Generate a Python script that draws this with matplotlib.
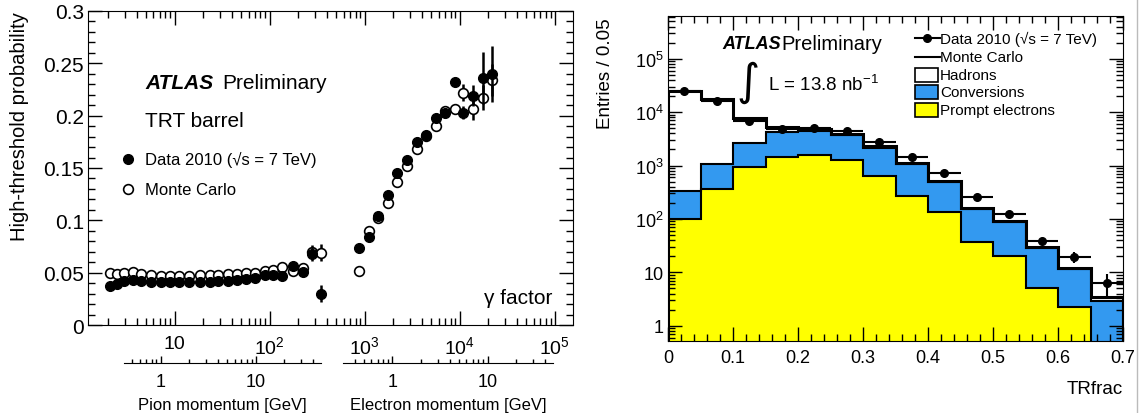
import numpy as np
import matplotlib.pyplot as plt
from matplotlib.lines import Line2D
from matplotlib.patches import Rectangle
from matplotlib.ticker import MultipleLocator, LogLocator, NullFormatter

plt.rcParams['font.family'] = ['Liberation Sans', 'DejaVu Sans']
plt.rcParams['mathtext.fontset'] = 'custom'
plt.rcParams['mathtext.rm'] = 'Liberation Sans'
plt.rcParams['mathtext.it'] = 'Liberation Sans:italic'

# ---- left panel: high-threshold probability vs gamma factor ----
pion_gamma = [2.09, 2.48, 2.94, 3.66, 4.44, 5.65, 7.21, 8.96, 11.1, 14.2, 18.5, 23.6,
              28.6, 36.5, 45.4, 56.4, 70.2, 89.4, 108, 135, 176, 224, 279, 347]
pion_data = [0.0376, 0.039, 0.042, 0.043, 0.042, 0.041, 0.041, 0.041, 0.041, 0.041, 0.041, 0.0415,
             0.042, 0.042, 0.043, 0.044, 0.045, 0.048, 0.048, 0.047, 0.056, 0.051, 0.068, 0.030]
pion_mc = [0.0494, 0.049, 0.050, 0.051, 0.049, 0.048, 0.047, 0.047, 0.047, 0.047, 0.048, 0.048,
           0.048, 0.049, 0.049, 0.050, 0.050, 0.052, 0.053, 0.055, 0.052, 0.054, 0.070, 0.069]
pion_data_err = [0] * 22 + [0.007, 0.008]
pion_mc_err = [0] * 22 + [0.006, 0.008]

ele_gamma = [871, 1109, 1378, 1757, 2183, 2782, 3543, 4402, 5611, 6978, 8894, 10790,
             13740, 17490, 21770]
ele_data = [0.074, 0.084, 0.104, 0.124, 0.145, 0.158, 0.175, 0.182, 0.198, 0.203, 0.232, 0.203,
            0.219, 0.236, 0.240]
ele_mc = [0.052, 0.090, 0.102, 0.117, 0.137, 0.152, 0.168, 0.181, 0.190, 0.204, 0.206, 0.222,
          0.206, 0.217, 0.234]
ele_data_err = [0, 0, 0, 0, 0, 0, 0, 0, 0, 0.002, 0.004, 0.006, 0.010, 0.025, 0.027]
ele_mc_err = [0.003, 0, 0, 0, 0, 0, 0, 0, 0, 0.003, 0.004, 0.008, 0.010, 0.012, 0.015]

m_pion = 0.1396
m_ele = 0.000511

# ---- right panel: TRfrac distribution ----
tr_edges = np.linspace(0, 0.7, 15)
prompt_e = [100, 360, 940, 1420, 1580, 1260, 640, 270, 135, 37, 20, 5.1, 2.3, 0]
conversions = [230, 710, 1710, 2810, 2870, 2440, 1510, 800, 355, 118, 68, 24, 9.4, 2.9]
hadrons = [24700, 16400, 4950, 970, 350, 260, 150, 60, 25, 8, 4, 1, 0.5, 0.6]
tr_data = [24700, 16000, 6800, 4800, 5000, 4400, 2750, 1440, 720, 260, 125, 39, 19.5, 6.3]
tr_data_err = [160, 126, 82, 69, 71, 66, 52, 38, 27, 16, 11, 6, 4.4, 3]

W, H = 1141, 414
fig = plt.figure(figsize=(W / 100, H / 100), dpi=100)


def fx(px):
    return px / W


def fy(py):
    return 1 - py / H


# left axes
ax = fig.add_axes([fx(88), fy(326), fx(573) - fx(88), fy(12) - fy(326)])
ax.set_xscale('log')
ax.set_xlim(10 ** 0.09, 10 ** 5.19)
ax.set_ylim(0, 0.3)

ms = 7
for g, d, e in [(pion_gamma, pion_mc, pion_mc_err), (ele_gamma, ele_mc, ele_mc_err)]:
    ax.errorbar(g, d, yerr=e, fmt='o', ms=ms, mfc='white', mec='black', mew=1.2,
                ecolor='black', elinewidth=1.8, capsize=0, zorder=3)
for g, d, e in [(pion_gamma, pion_data, pion_data_err), (ele_gamma, ele_data, ele_data_err)]:
    ax.errorbar(g, d, yerr=e, fmt='o', ms=ms, mfc='black', mec='black',
                ecolor='black', elinewidth=1.8, capsize=0, zorder=4)

ax.yaxis.set_minor_locator(MultipleLocator(0.01))
ax.set_yticks([0, 0.05, 0.1, 0.15, 0.2, 0.25, 0.3], ['0', '0.05', '0.1', '0.15', '0.2', '0.25', '0.3'])
ax.set_xticks([10, 1e2, 1e3, 1e4, 1e5], ['10', r'$10^2$', r'$10^3$', r'$10^4$', r'$10^5$'])
ax.xaxis.set_minor_locator(LogLocator(base=10, subs=np.arange(2, 10)))
ax.xaxis.set_minor_formatter(NullFormatter())
ax.tick_params(which='both', direction='in', top=True, right=True, width=1)
ax.tick_params(which='major', length=10)
ax.tick_params(which='minor', length=5)
ax.tick_params(axis='y', labelsize=15, pad=3)
ax.tick_params(axis='x', labelsize=14, pad=7)

ax.text(0.1175, 0.771, 'ATLAS', transform=ax.transAxes, fontsize=15, fontweight='bold',
        fontstyle='italic', va='center')
ax.text(0.276, 0.771, 'Preliminary', transform=ax.transAxes, fontsize=15, va='center')
ax.text(0.1175, 0.650, 'TRT barrel', transform=ax.transAxes, fontsize=15, va='center')
ax.plot([0.0825], [0.529], 'o', ms=ms, mfc='black', mec='black', transform=ax.transAxes, clip_on=False)
ax.text(0.1175, 0.529, 'Data 2010 (√s = 7 TeV)', transform=ax.transAxes, fontsize=12, va='center')
ax.plot([0.0825], [0.433], 'o', ms=ms, mfc='white', mec='black', mew=1.2, transform=ax.transAxes, clip_on=False)
ax.text(0.1175, 0.433, 'Monte Carlo', transform=ax.transAxes, fontsize=12, va='center')
ax.text(0.957, 0.089, 'γ factor', transform=ax.transAxes, fontsize=15, ha='right', va='center')

fig.text(fx(20), fy(12), 'High-threshold probability', rotation=90, fontsize=14.5,
         ha='center', va='top')

# momentum scales under the gamma axis
ybelow = (326 - 364) / 314
for g0, g1, m, label in [(2.94, 347, m_pion, 'Pion momentum [GeV]'),
                         (590, 95300, m_ele, 'Electron momentum [GeV]')]:
    pax = ax.inset_axes([g0, ybelow, g1 - g0, 0.001], transform=ax.get_xaxis_transform())
    pax.set_xscale('log')
    pax.set_xlim(g0 * m, g1 * m)
    for s in ['top', 'left', 'right']:
        pax.spines[s].set_visible(False)
    pax.patch.set_visible(False)
    pax.set_yticks([])
    pax.set_xticks([1, 10], ['1', '10'])
    pax.xaxis.set_minor_locator(LogLocator(base=10, subs=np.arange(2, 10)))
    pax.xaxis.set_minor_formatter(NullFormatter())
    pax.tick_params(which='both', direction='in', labelsize=13, pad=7, width=1)
    pax.tick_params(which='major', length=5)
    pax.tick_params(which='minor', length=3)
    pax.set_xlabel(label, fontsize=12, labelpad=5)

# right axes
ax2 = fig.add_axes([fx(668), fy(342), fx(1123) - fx(668), fy(17) - fy(342)])
ax2.set_yscale('log')
ax2.set_xlim(0, 0.7)
ax2.set_ylim(0.52, 6.3e5)

prompt_e = np.array(prompt_e, dtype=float)
conv_top = prompt_e + np.array(conversions)
mc_top = conv_top + np.array(hadrons)
base = 1e-3
prompt_draw = np.where(prompt_e > 0, prompt_e, base)
ax2.stairs(mc_top, tr_edges, baseline=base, fill=True, facecolor='white', edgecolor='none')
ax2.stairs(conv_top, tr_edges, baseline=base, fill=True, facecolor='#3399f0', edgecolor='none')
ax2.stairs(prompt_draw, tr_edges, baseline=base, fill=True, facecolor='#ffff00', edgecolor='none')
ax2.stairs(conv_top, tr_edges, baseline=base, color='black', lw=1.5)
ax2.stairs(prompt_draw, tr_edges, baseline=base, color='black', lw=1.5)
ax2.stairs(mc_top, tr_edges, baseline=base, color='black', lw=2.2)

centers = 0.5 * (tr_edges[:-1] + tr_edges[1:])
ax2.errorbar(centers, tr_data, xerr=0.025, yerr=tr_data_err, fmt='o', ms=5.5, color='black',
             elinewidth=1.5, capsize=0, zorder=5)

ax2.xaxis.set_minor_locator(MultipleLocator(0.02))
ax2.set_xticks([0, 0.1, 0.2, 0.3, 0.4, 0.5, 0.6, 0.7], ['0', '0.1', '0.2', '0.3', '0.4', '0.5', '0.6', '0.7'])
ax2.set_yticks([1, 10, 1e2, 1e3, 1e4, 1e5], ['1', '10', r'$10^2$', r'$10^3$', r'$10^4$', r'$10^5$'])
ax2.yaxis.set_minor_locator(LogLocator(base=10, subs=np.arange(2, 10)))
ax2.yaxis.set_minor_formatter(NullFormatter())
ax2.tick_params(which='both', direction='in', top=True, right=True, width=1, labelsize=13)
ax2.tick_params(which='major', length=10)
ax2.tick_params(which='minor', length=5)
ax2.tick_params(axis='y', pad=3)
ax2.tick_params(axis='x', pad=6)
ax2.set_axisbelow(False)

ax2.text(0.119, 0.914, 'ATLAS', transform=ax2.transAxes, fontsize=13, fontweight='bold',
         fontstyle='italic', va='center')
ax2.text(0.25, 0.914, 'Preliminary', transform=ax2.transAxes, fontsize=14.5, va='center')
ax2.text(0.175, 0.80, '∫', transform=ax2.transAxes, fontsize=32, family='DejaVu Sans',
         ha='center', va='center')
ax2.text(0.22, 0.79, r'L = 13.8 nb$^{-1}$', transform=ax2.transAxes, fontsize=13.5, va='center')

leg_y = [0.932, 0.874, 0.818, 0.766, 0.711]
ax2.plot([0.543, 0.598], [leg_y[0]] * 2, color='black', lw=1.5, transform=ax2.transAxes)
ax2.plot([0.570], [leg_y[0]], 'o', ms=5.5, color='black', transform=ax2.transAxes)
ax2.plot([0.543, 0.598], [leg_y[1]] * 2, color='black', lw=1.5, transform=ax2.transAxes)
for yy, fc in zip(leg_y[2:], ['white', '#3399f0', '#ffff00']):
    ax2.add_patch(Rectangle((0.543, yy - 0.021), 0.05, 0.042, transform=ax2.transAxes,
                            facecolor=fc, edgecolor='black', lw=1.2))
leg_labels = ['Data 2010 (√s = 7 TeV)', 'Monte Carlo', 'Hadrons', 'Conversions',
              'Prompt electrons']
for yy, lab in zip(leg_y, leg_labels):
    ax2.text(0.598, yy, lab, transform=ax2.transAxes, fontsize=11, va='center')

fig.text(fx(606), fy(18), 'Entries / 0.05', rotation=90, fontsize=13.5, ha='center', va='top')
fig.text(fx(1123), fy(390), 'TRfrac', fontsize=13.5, ha='right', va='center')

fig.add_artist(Line2D([fx(1137), fx(1137)], [0, 1], color='#bbbbbb', lw=1))

fig.savefig('out.png', dpi=100)
